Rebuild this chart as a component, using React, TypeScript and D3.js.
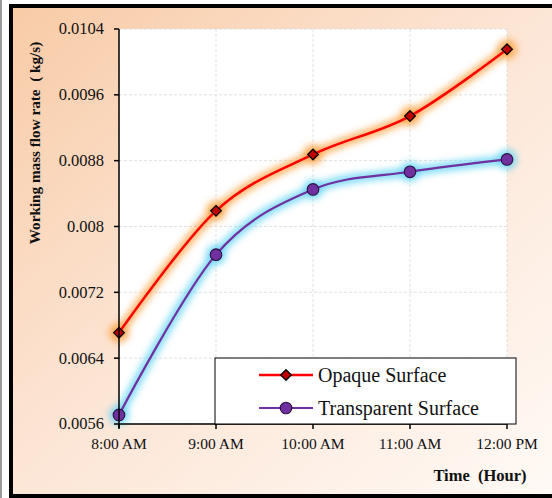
import React from "react";
import * as d3 from "d3";

const hours = ["8:00 AM", "9:00 AM", "10:00 AM", "11:00 AM", "12:00 PM"];
const opaque = [0.00671, 0.00819, 0.008875, 0.009342, 0.010154];
const transparent = [0.00571, 0.007658, 0.00845, 0.008665, 0.008815];
const yTicks = [0.0056, 0.0064, 0.0072, 0.008, 0.0088, 0.0096, 0.0104];
const seriesNames = ["Opaque Surface", "Transparent Surface"];

const W = 552;
const H = 498;
const plot = { left: 119, right: 507, top: 29, bottom: 424 };
const serif = "'Liberation Serif', 'DejaVu Serif', serif";

export default function App() {
  const x = d3
    .scalePoint<string>()
    .domain(hours)
    .range([plot.left, plot.right]);
  const y = d3
    .scaleLinear()
    .domain([0.0056, 0.0104])
    .range([plot.bottom, plot.top]);

  const line = d3
    .line<number>()
    .x((_, i) => x(hours[i]) as number)
    .y((d) => y(d))
    .curve(d3.curveCatmullRom.alpha(0));

  const diamond = d3.symbol().type(d3.symbolDiamond2).size(72)() as string;

  return (
    <svg
      width={W}
      height={H}
      style={{ position: "absolute", left: 0, top: 0 }}
      fontFamily={serif}
    >
      <defs>
        <linearGradient id="bg" x1="0" y1="0" x2="1" y2="1">
          <stop offset="0" stopColor="#f8cba6" />
          <stop offset="0.45" stopColor="#fce4d3" />
          <stop offset="1" stopColor="#fffaf6" />
        </linearGradient>
        <filter id="glow" x="-20%" y="-20%" width="140%" height="140%">
          <feGaussianBlur stdDeviation="3.5" />
        </filter>
      </defs>

      <rect x={0} y={0} width={W} height={H} fill="#ffffff" />
      <line x1={1} y1={0} x2={1} y2={H} stroke="#9a9a9a" strokeWidth={2} />
      <rect x={11} y={6} width={W} height={490} fill="url(#bg)" stroke="#000" strokeWidth={4} />

      {/* plot area */}
      <rect
        x={plot.left}
        y={plot.top}
        width={plot.right - plot.left}
        height={plot.bottom - plot.top}
        fill="#ffffff"
      />
      {yTicks.map((t) => (
        <line
          key={"gy" + t}
          x1={plot.left}
          x2={plot.right}
          y1={y(t)}
          y2={y(t)}
          stroke="#d9d9d9"
          strokeDasharray="3,2"
          strokeWidth={0.8}
        />
      ))}
      {hours.map((h) => (
        <line
          key={"gx" + h}
          x1={x(h)}
          x2={x(h)}
          y1={plot.top}
          y2={plot.bottom}
          stroke="#d9d9d9"
          strokeDasharray="3,2"
          strokeWidth={0.8}
        />
      ))}

      {/* glows */}
      <g filter="url(#glow)">
        <path d={line(opaque) as string} fill="none" stroke="#ffa040" strokeWidth={9} opacity={0.8} />
        {opaque.map((v, i) => (
          <circle key={"og" + i} cx={x(hours[i])} cy={y(v)} r={10} fill="#ffa040" opacity={0.8} />
        ))}
        <path d={line(transparent) as string} fill="none" stroke="#5fd3f5" strokeWidth={9} opacity={0.8} />
        {transparent.map((v, i) => (
          <circle key={"tg" + i} cx={x(hours[i])} cy={y(v)} r={10} fill="#5fd3f5" opacity={0.8} />
        ))}
      </g>

      {/* series lines */}
      <path d={line(opaque) as string} fill="none" stroke="#ff0000" strokeWidth={2.5} />
      <path d={line(transparent) as string} fill="none" stroke="#7030a0" strokeWidth={2.2} />

      {opaque.map((v, i) => (
        <path
          key={"om" + i}
          d={diamond}
          transform={`translate(${x(hours[i])},${y(v)})`}
          fill="#c00000"
          stroke="#000"
          strokeWidth={1.3}
        />
      ))}
      {transparent.map((v, i) => (
        <circle
          key={"tm" + i}
          cx={x(hours[i])}
          cy={y(v)}
          r={5.8}
          fill="#7030a0"
          stroke="#2b1040"
          strokeWidth={1.1}
        />
      ))}

      {/* axes */}
      <line x1={plot.left} x2={plot.left} y1={plot.top} y2={plot.bottom + 4} stroke="#000" strokeWidth={1.5} />
      <line x1={plot.left} x2={plot.right} y1={plot.bottom} y2={plot.bottom} stroke="#000" strokeWidth={1.5} />
      {yTicks.map((t) => (
        <g key={"ty" + t}>
          <line x1={plot.left - 5} x2={plot.left} y1={y(t)} y2={y(t)} stroke="#000" strokeWidth={1.5} />
          <text x={104} y={y(t)} dy="0.33em" textAnchor="end" fontSize={16.5} fill="#111">
            {String(t)}
          </text>
        </g>
      ))}
      {hours.map((h) => (
        <g key={"tx" + h}>
          <line x1={x(h)} x2={x(h)} y1={plot.bottom} y2={plot.bottom + 5} stroke="#000" strokeWidth={1.5} />
          <text x={x(h)} y={449} textAnchor="middle" fontSize={15.5} fill="#111">
            {h}
          </text>
        </g>
      ))}

      {/* legend */}
      <rect x={215} y={358} width={301} height={66} fill="#ffffff" stroke="#000" strokeWidth={1} />
      {seriesNames.map((name, i) => {
        const ly = 375 + i * 33;
        return (
          <g key={name}>
            <line
              x1={259}
              x2={313}
              y1={ly}
              y2={ly}
              stroke={i === 0 ? "#ff0000" : "#7030a0"}
              strokeWidth={i === 0 ? 2.5 : 2.2}
            />
            {i === 0 ? (
              <path d={diamond} transform={`translate(286,${ly})`} fill="#c00000" stroke="#000" strokeWidth={1.3} />
            ) : (
              <circle cx={286} cy={ly} r={5.8} fill="#7030a0" stroke="#2b1040" strokeWidth={1.1} />
            )}
            <text x={318} y={ly} dy="0.33em" fontSize={20} fill="#111">
              {name}
            </text>
          </g>
        );
      })}

      {/* axis titles */}
      <text
        transform="translate(40,143) rotate(-90)"
        textAnchor="middle"
        fontSize={15.2}
        fontWeight="bold"
        fill="#111"
        style={{ whiteSpace: "pre" }}
      >
        {"Working mass flow rate  ( kg/s)"}
      </text>
      <text x={480} y={481} textAnchor="middle" fontSize={16.5} fontWeight="bold" fill="#111" style={{ whiteSpace: "pre" }}>
        {"Time  (Hour)"}
      </text>
    </svg>
  );
}
